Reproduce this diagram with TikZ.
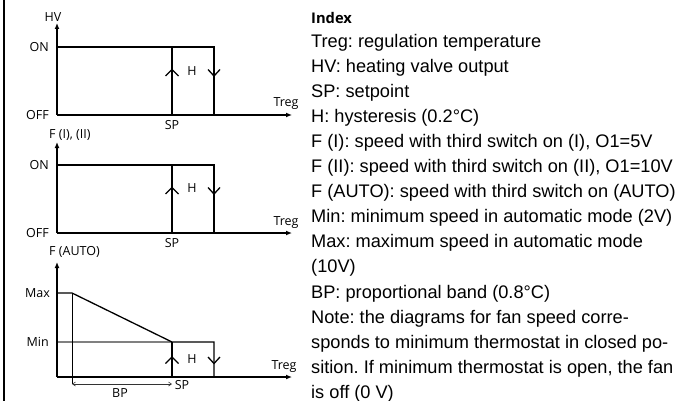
\documentclass[tikz,border=0pt]{standalone}
\usepackage{fontspec}
\setmainfont{Liberation Sans}
\newfontfamily\labfont{Open Sans}
\usetikzlibrary{arrows.meta}
\frenchspacing
\begin{document}
\begin{tikzpicture}[x=1pt,y=-1pt,
  axis/.style={line width=1.3pt, -{Latex[length=6pt,width=5pt]}},
  curve/.style={line width=1.3pt},
  chev/.style={line width=1.3pt},
  thinv/.style={line width=0.9pt},
  dim/.style={line width=0.6pt, black!80, {Straight Barb[length=3pt,width=4pt]}-{Straight Barb[length=3pt,width=4pt]}},
  lab/.style={font=\labfont\fontsize{12.5}{14}\selectfont, inner sep=0pt},
  idx/.style={font=\frenchspacing\fontsize{18.2}{21}\selectfont, inner sep=0pt, anchor=base west}
]
\useasboundingbox (0,0) rectangle (682,401);
% left border
\coordinate (bt) at (4,0);
\coordinate (bb) at (4,401);
\draw[line width=1.2pt] (bt) -- (bb);

% ---------- Diagram 1 ----------
\coordinate (o1) at (57,115);
\coordinate (x1) at (292,115);
\coordinate (y1) at (57,23);
\coordinate (on1) at (57,47);
\coordinate (sp1t) at (172,47);
\coordinate (sp1b) at (172,115);
\coordinate (r1t) at (214,47);
\coordinate (r1b) at (214,115);
\draw[axis] (o1) -- (x1);
\draw[axis] (o1) -- (y1);
\draw[curve] (on1) -- (r1t) -- (r1b);
\draw[curve] (sp1b) -- (sp1t);
\draw[chev] (165.5,76) -- (172,69.5) -- (178.5,76);
\draw[chev] (208,69.5) -- (214,76) -- (220,69.5);
\node[lab] (hv) at (53,17) {HV};
\node[lab,anchor=east] (on1l) at (49,47) {ON};
\node[lab,anchor=east] (off1l) at (49,115) {OFF};
\node[lab] (sp1l) at (172,125) {SP};
\node[lab] (h1l) at (192,71) {H};
\node[lab] (t1l) at (286,104) {Treg};

% ---------- Diagram 2 ----------
\coordinate (o2) at (57,233);
\coordinate (x2) at (292,233);
\coordinate (y2) at (57,142);
\coordinate (on2) at (57,165);
\coordinate (sp2t) at (172,165);
\coordinate (sp2b) at (172,233);
\coordinate (r2t) at (214,165);
\coordinate (r2b) at (214,233);
\draw[axis] (o2) -- (x2);
\draw[axis] (o2) -- (y2);
\draw[curve] (on2) -- (r2t) -- (r2b);
\draw[curve] (sp2b) -- (sp2t);
\draw[chev] (165.5,194) -- (172,187.5) -- (178.5,194);
\draw[chev] (208,187.5) -- (214,194) -- (220,187.5);
\node[lab,anchor=west] (f12) at (49,135) {F (I), (II)};
\node[lab,anchor=east] (on2l) at (49,165) {ON};
\node[lab,anchor=east] (off2l) at (49,233) {OFF};
\node[lab] (sp2l) at (172,243) {SP};
\node[lab] (h2l) at (192,188) {H};
\node[lab] (t2l) at (286,223) {Treg};

% ---------- Diagram 3 ----------
\coordinate (o3) at (57,377);
\coordinate (x3) at (292,377);
\coordinate (y3) at (57,262);
\coordinate (mx) at (57,293);
\coordinate (bpa) at (72,293);
\coordinate (mn) at (57,342);
\coordinate (sp3t) at (172,342);
\coordinate (sp3b) at (172,377);
\coordinate (r3t) at (214,342);
\coordinate (r3b) at (214,377);
\coordinate (bpl) at (72,384);
\coordinate (bpr) at (172,384);
\draw[gray, line width=1.2pt] (mn) -- (sp3t);
\draw[axis] (o3) -- (x3);
\draw[axis] (o3) -- (y3);
\draw[thinv] (bpa) -- (bpl);
\draw[curve] (mx) -- (bpa) -- (sp3t) -- (r3t) -- (r3b);
\draw[curve] (sp3b) -- (sp3t);
\draw[dim] (bpl) -- (bpr);
\draw[chev] (165.5,363.5) -- (172,357) -- (178.5,363.5);
\draw[chev] (208,357) -- (214,363.5) -- (220,357);
\node[lab,anchor=west] (fa) at (49,252) {F (AUTO)};
\node[lab,anchor=east] (mxl) at (50,293) {Max};
\node[lab,anchor=east] (mnl) at (49,342) {Min};
\node[lab] (sp3l) at (182,385) {SP};
\node[lab] (h3l) at (192,359) {H};
\node[lab] (t3l) at (284,367) {Treg};
\node[lab] (bpt) at (120,393) {BP};

% ---------- Index ----------
\node[font=\labfont\bfseries\fontsize{14.7}{17}\selectfont, inner sep=0pt, anchor=base west] (index) at (311,23.5) {Index};
\foreach \t [count=\i from 0] in {
  {Treg: regulation temperature},
  {HV: heating valve output},
  {SP: setpoint},
  {H: hysteresis (0.2°C)},
  {F (I): speed with third switch on (I), O1=5V},
  {F (II): speed with third switch on (II), O1=10V},
  {F (AUTO): speed with third switch on (AUTO)},
  {Min: minimum speed in automatic mode (2V)},
  {Max: maximum speed in automatic mode},
  {(10V)},
  {BP: proportional band (0.8°C)},
  {Note: the diagrams for fan speed corre-},
  {sponds to minimum thermostat in closed po-},
  {sition. If minimum thermostat is open, the fan},
  {is off (0 V)}}
  \node[idx] (line\i) at (311,47.5+25.05*\i) {\t};
\end{tikzpicture}
\end{document}
